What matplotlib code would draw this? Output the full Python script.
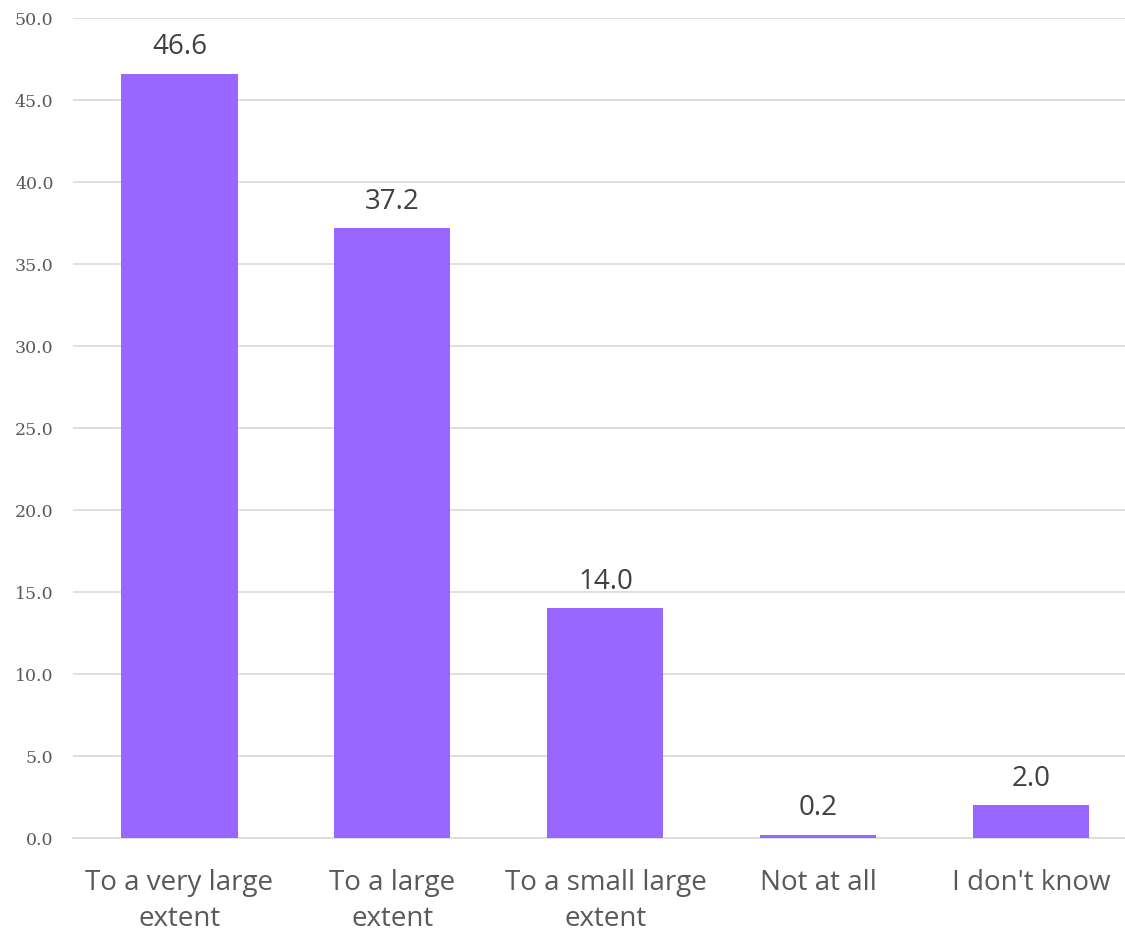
import numpy as np
import matplotlib.pyplot as plt

categories = ['To a very large\nextent', 'To a large\nextent', 'To a small large\nextent', 'Not at all', "I don't know"]
values = [46.6, 37.2, 14.0, 0.2, 2.0]
yticks = np.arange(0, 50.1, 5)

fig = plt.figure(figsize=(11.25, 9.33), dpi=100)
ax = fig.add_axes([0.0649, 0.1018, 0.9351, 0.8789])

x = np.arange(len(values))
ax.bar(x, values, width=0.545, color='#9966FF', zorder=3)
for xi, v in zip(x, values):
    ax.text(xi, v + 0.75, f'{v:.1f}', ha='center', va='bottom', fontsize=20,
            family='Open Sans', color='#404040')

ax.set_ylim(0, 50)
ax.set_xlim(-0.5, 4.44)
ax.set_yticks(yticks)
ax.set_yticklabels([f'{t:.1f}' for t in yticks], family='DejaVu Serif', fontsize=12.5, color='#595959')
ax.set_xticks(x)
ax.set_xticklabels(categories, family='Open Sans', fontsize=20, color='#595959', linespacing=1.4)
ax.grid(axis='y', color='#D9D9D9', linewidth=1.2, zorder=0)
for s in ['top', 'right', 'left']:
    ax.spines[s].set_visible(False)
ax.spines['bottom'].set_color('#D9D9D9')
ax.spines['bottom'].set_linewidth(1.2)
ax.tick_params(axis='both', length=0)
ax.tick_params(axis='x', pad=22)
ax.tick_params(axis='y', pad=14)

fig.savefig('out.png', dpi=100)
